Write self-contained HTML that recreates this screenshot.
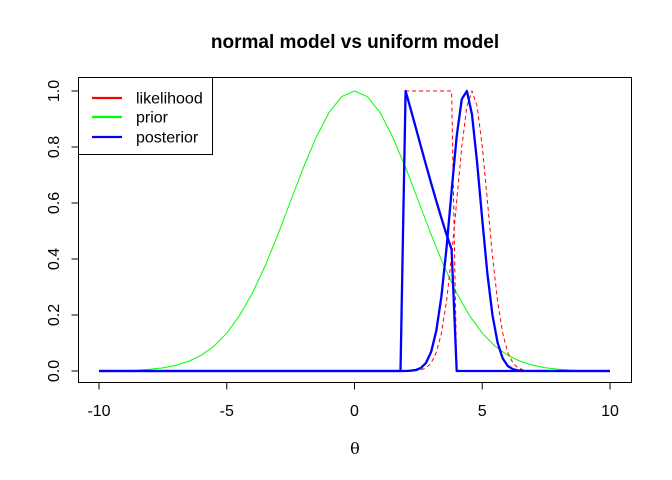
<!DOCTYPE html>
<html><head><meta charset="utf-8"><style>
body{margin:0;background:#fff}
svg{display:block;font-family:"Liberation Sans",sans-serif}
</style></head><body>
<svg id="chart" width="672" height="480" viewBox="0 0 672 480"></svg>
<script>
const xTicks=[-10,-5,0,5,10];
const yTicks=[0,0.2,0.4,0.6,0.8,1.0];
const yTickLabels=["0.0","0.2","0.4","0.6","0.8","1.0"];
const priorX=[-10,-9.5,-9,-8.5,-8,-7.5,-7,-6.5,-6,-5.5,-5,-4.5,-4,-3.5,-3,-2.5,-2,-1.5,-1,-0.5,0,0.5,1,1.5,2,2.5,3,3.5,4,4.5,5,5.5,6,6.5,7,7.5,8,8.5,9,9.5,10];
const priorY=[0.0003,0.0007,0.0015,0.003,0.006,0.011,0.020,0.034,0.056,0.089,0.135,0.198,0.278,0.375,0.487,0.607,0.726,0.835,0.923,0.980,1,0.980,0.923,0.835,0.726,0.607,0.487,0.375,0.278,0.198,0.135,0.089,0.056,0.034,0.020,0.011,0.006,0.003,0.0015,0.0007,0.0003];
const likUnifX=[-10,1.8,2.0,3.8,4.0,10];
const likUnifY=[0,0,1,1,0,0];
const likNormX=[-10,2.2,2.4,2.6,2.8,3.0,3.2,3.4,3.6,3.8,4.0,4.2,4.4,4.6,4.8,5.0,5.2,5.4,5.6,5.8,6.0,6.2,6.4,6.6,6.8,10];
const likNormY=[0,0,0.0012,0.004,0.011,0.029,0.066,0.135,0.249,0.411,0.607,0.801,0.946,1,0.946,0.801,0.607,0.411,0.249,0.135,0.066,0.029,0.011,0.004,0.0012,0];
const postUnifX=[-10,1.8,2.0,2.2,2.4,2.6,2.8,3.0,3.2,3.4,3.6,3.8,4.0,10];
const postUnifY=[0,0,1,0.935,0.869,0.802,0.736,0.670,0.607,0.546,0.488,0.434,0,0];
const postNormX=[-10,2.0,2.2,2.4,2.6,2.8,3.0,3.2,3.4,3.6,3.8,4.0,4.2,4.4,4.6,4.8,5.0,5.2,5.4,5.6,5.8,6.0,6.2,6.4,6.6,10];
const postNormY=[0,0,0.001,0.0036,0.011,0.029,0.069,0.144,0.266,0.439,0.643,0.839,0.971,1,0.916,0.745,0.539,0.347,0.199,0.101,0.045,0.018,0.0065,0.002,0.0005,0];

const NS="http://www.w3.org/2000/svg";
const svg=document.getElementById('chart');
const sx=v=>99+(v+10)*25.55;
const sy=v=>371-v*280;
function el(tag,attrs,parent){const e=document.createElementNS(NS,tag);for(const k in attrs)e.setAttribute(k,attrs[k]);(parent||svg).appendChild(e);return e;}
function txt(s,attrs){const t=el('text',attrs);t.textContent=s;return t;}

const t=txt('normal model vs uniform model',{x:355,y:48,'text-anchor':'middle','font-size':19,'font-weight':'bold'});


const series=[
 [priorX,priorY,'#00ff00',1,null,'prior-curve'],
 [likUnifX,likUnifY,'#ff0000',1,'4,3','likelihood-uniform'],
 [likNormX,likNormY,'#ff0000',1,'4,3','likelihood-normal'],
 [postUnifX,postUnifY,'#0000ff',2.3,null,'posterior-uniform'],
 [postNormX,postNormY,'#0000ff',2.3,null,'posterior-normal']
];
series.forEach(s=>{
 const pts=s[0].map((x,i)=>sx(x).toFixed(1)+','+sy(s[1][i]).toFixed(1)).join(' ');
 const a={points:pts,fill:'none',stroke:s[2],'stroke-width':s[3],'stroke-linejoin':'round'};
 if(s[4])a['stroke-dasharray']=s[4];
 const p=el('polyline',a);
 
 
});

const box=el('rect',{x:78.5,y:77.5,width:553,height:305,fill:'none',stroke:'#000','stroke-width':1});


xTicks.forEach(v=>{
 el('line',{x1:sx(v),x2:sx(v),y1:382.5,y2:389.5,stroke:'#000'});
 const l=txt(String(v),{x:sx(v),y:416,'text-anchor':'middle','font-size':16});
 
});
el('line',{x1:sx(-10),x2:sx(10),y1:382.5,y2:382.5,stroke:'#000'});
yTicks.forEach((v,i)=>{
 el('line',{x1:71.5,x2:78.5,y1:sy(v),y2:sy(v),stroke:'#000'});
 const l=txt(yTickLabels[i],{x:59,y:sy(v),'text-anchor':'middle','font-size':16,transform:`rotate(-90 59 ${sy(v)})`});
 
});
const xl=txt('θ',{x:355,y:454,'text-anchor':'middle','font-size':16,'font-family':'DejaVu Serif, serif'});


const lg=el('g',{});

el('rect',{x:78.5,y:77.5,width:134,height:77,fill:'#fff',stroke:'#000'},lg);
[['likelihood','#ff0000',98],['prior','#00ff00',117],['posterior','#0000ff',137]].forEach(e=>{
 el('line',{x1:92,x2:122,y1:e[2],y2:e[2],stroke:e[1],'stroke-width':2.3},lg);
 const tt=el('text',{x:136,y:e[2]+5.5,'font-size':16},lg);tt.textContent=e[0];
 
});
</script>
</body></html>
